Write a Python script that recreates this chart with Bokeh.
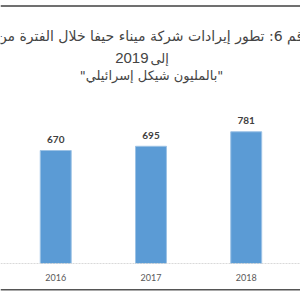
from bokeh.plotting import figure
from bokeh.models import ColumnDataSource, Span, Label
from bokeh.core.properties import value
from bokeh.embed import file_html
from bokeh.resources import INLINE

years = [2016, 2017, 2018]
year_labels = ["2016", "2017", "2018"]
revenues = [670, 695, 781]
revenue_labels = ["670", "695", "781"]

title_line1 = "شكل رقم 6: تطور إيرادات شركة ميناء حيفا خلال الفترة من 2015"
title_line2_num = "2019"
title_line2_word = "إلى"
title_line3 = "\"بالمليون شيكل إسرائيلي\""

src = ColumnDataSource(dict(x=years, top=revenues, vlab=revenue_labels, ylab=year_labels,
                            zero=[0] * len(years)))

p = figure(width=300, height=300, output_backend="svg", toolbar_location=None,
           x_range=(2015.42, 2018.57), y_range=(-219.4, 1559.4),
           min_border=0, outline_line_color=None)
p.axis.visible = False
p.grid.visible = False
p.background_fill_color = "white"
p.border_fill_color = "white"

p.vbar(x="x", top="top", width=0.325, source=src, fill_color="#5B9BD5",
       line_color="#9CC2E5", line_width=1)

p.text(x="x", y="top", text="vlab", source=src, text_align="center", text_baseline="middle",
       y_offset=-11, text_font=value("Lato"), text_font_style="bold", text_font_size="10px",
       text_color="#404040")
p.text(x="x", y="zero", text="ylab", source=src, text_align="center", text_baseline="middle",
       y_offset=14, text_font=value("Lato"), text_font_size="9px", text_color="#595959")

p.add_layout(Span(location=0, dimension="width", line_color="#D9D9D9", line_width=1,
                  line_dash="2 1"))
p.add_layout(Span(location=1526.8, dimension="width", line_color="#404040", line_width=1.5))
p.add_layout(Span(location=-155.0, dimension="width", line_color="#555555", line_width=1.5))

p.add_layout(Label(x=150, y=265, x_units="screen", y_units="screen", text=title_line1,
                   text_align="center", text_baseline="middle", text_font_size="14px",
                   text_font="DejaVu Sans", text_color="#444444"))
p.add_layout(Label(x=148, y=243, x_units="screen", y_units="screen", text=title_line2_num,
                   text_align="right", text_baseline="middle", text_font_size="15px",
                   text_font="Liberation Sans", text_color="#444444"))
p.add_layout(Label(x=150, y=242, x_units="screen", y_units="screen", text=title_line2_word,
                   text_align="left", text_baseline="middle", text_font_size="13px",
                   text_font="DejaVu Sans", text_color="#444444"))
p.add_layout(Label(x=151, y=225, x_units="screen", y_units="screen", text=title_line3,
                   text_align="center", text_baseline="middle", text_font_size="13px",
                   text_font="DejaVu Sans", text_color="#444444"))

open("out.html", "w").write(file_html(p, INLINE))
